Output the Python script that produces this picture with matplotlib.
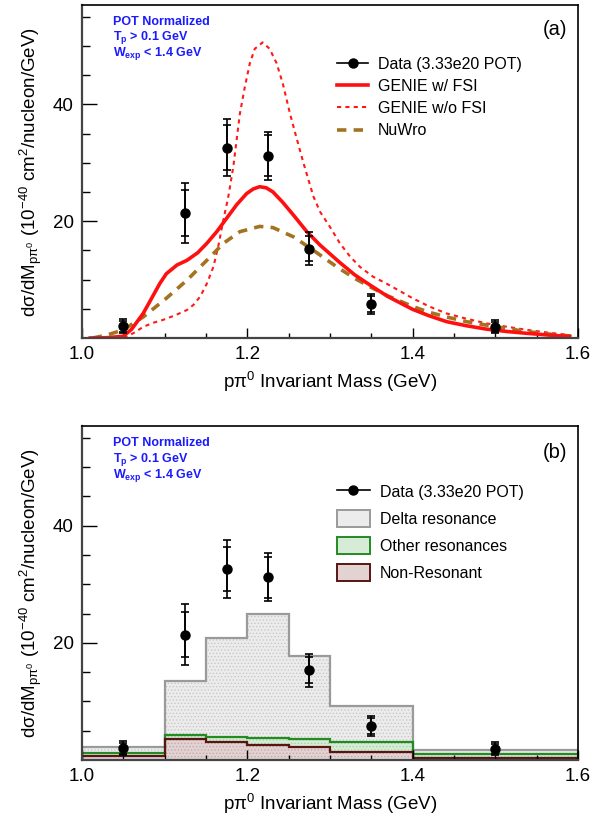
import numpy as np
import matplotlib
matplotlib.use("Agg")
import matplotlib.pyplot as plt
from matplotlib.patches import Patch
from matplotlib.lines import Line2D

plt.rcParams['font.family'] = ['Liberation Sans', 'DejaVu Sans']
plt.rcParams['mathtext.fontset'] = 'custom'
plt.rcParams['mathtext.rm'] = 'Liberation Sans'
plt.rcParams['mathtext.it'] = 'Liberation Sans:italic'
plt.rcParams['mathtext.bf'] = 'Liberation Sans:bold'
plt.rcParams['hatch.linewidth'] = 0.6

# ---------------- data ----------------
data_x = [1.05, 1.125, 1.175, 1.225, 1.275, 1.35, 1.5]
data_y = [2.0, 21.4, 32.6, 31.2, 15.3, 5.8, 1.9]
data_err_stat = [0.9, 3.9, 3.8, 3.5, 2.2, 1.4, 0.9]
data_err_tot = [1.2, 5.2, 4.9, 4.1, 2.8, 1.7, 1.1]

genie_fsi_x = [1.01, 1.03, 1.05, 1.06, 1.074, 1.085, 1.094, 1.102, 1.115, 1.127,
               1.14, 1.151, 1.163, 1.175, 1.187, 1.199, 1.207, 1.215, 1.223, 1.231,
               1.243, 1.256, 1.272, 1.288, 1.312, 1.33, 1.348, 1.37, 1.4, 1.42,
               1.441, 1.465, 1.49, 1.515, 1.538, 1.565, 1.59]
genie_fsi_y = [0.0, 0.05, 0.3, 1.5, 4.2, 7.0, 9.3, 11.0, 12.5, 13.3,
               14.6, 16.2, 18.2, 20.5, 22.8, 24.7, 25.5, 25.9, 25.7, 25.0,
               23.2, 21.0, 18.2, 15.9, 12.9, 10.8, 9.1, 7.1, 4.9, 3.8,
               2.8, 2.1, 1.5, 1.1, 0.8, 0.5, 0.25]

genie_nofsi_x = [1.02, 1.04, 1.052, 1.063, 1.074, 1.086, 1.098, 1.113, 1.127, 1.135,
                 1.143, 1.151, 1.159, 1.165, 1.171, 1.177, 1.183, 1.191, 1.197, 1.203,
                 1.209, 1.2185, 1.227, 1.2355, 1.243, 1.2516, 1.26, 1.268, 1.28, 1.288,
                 1.3, 1.312, 1.324, 1.336, 1.352, 1.3685, 1.385, 1.4, 1.42, 1.441,
                 1.465, 1.4895, 1.515, 1.538, 1.565, 1.59]
genie_nofsi_y = [0.0, 0.0, 0.1, 0.9, 1.9, 2.6, 3.1, 3.9, 4.8, 5.7,
                 7.1, 9.3, 12.2, 15.8, 20.2, 24.2, 29.3, 38.4, 43.0, 47.0,
                 49.5, 50.6, 49.5, 47.0, 43.5, 38.4, 34.0, 29.9, 24.2, 21.6,
                 19.0, 16.2, 14.0, 12.2, 10.5, 9.3, 8.0, 6.8, 5.4, 4.2,
                 3.3, 2.5, 1.9, 1.4, 0.9, 0.5]

nuwro_x = [1.013, 1.03, 1.05, 1.074, 1.102, 1.127, 1.151, 1.171, 1.191, 1.215,
           1.231, 1.256, 1.28, 1.308, 1.33, 1.348, 1.37, 1.4, 1.42, 1.441,
           1.465, 1.4895, 1.515, 1.538, 1.57, 1.595]
nuwro_y = [0.0, 0.5, 1.4, 3.6, 6.8, 9.9, 13.3, 16.2, 18.2, 19.1,
           18.9, 17.3, 15.0, 12.2, 10.2, 8.8, 7.2, 5.4, 4.4, 3.6,
           2.8, 2.2, 1.6, 1.1, 0.6, 0.3]

bin_edges = [1.0, 1.1, 1.15, 1.2, 1.25, 1.3, 1.4, 1.6]
nonres = [0.75, 3.5, 3.1, 2.6, 2.2, 1.3, 0.3]
other_res = [0.4, 0.7, 0.9, 1.2, 1.3, 1.7, 0.7]
delta_res = [1.0, 9.3, 16.9, 21.2, 14.3, 6.2, 0.7]

x_ticks = [1.0, 1.2, 1.4, 1.6]
x_ticklabels = ['1.0', '1.2', '1.4', '1.6']
y_ticks = [20, 40]

# ---------------- figure ----------------
W, H = 592, 825
fig = plt.figure(figsize=(W / 100, H / 100), dpi=100)

def px_axes(l, r, t, b):
    return fig.add_axes([l / W, 1 - b / H, (r - l) / W, (b - t) / H])

ax1 = px_axes(82, 578, 5, 338)
ax2 = px_axes(82, 578, 426, 760)

ylabel = r'd$\mathrm{\sigma}$/dM$_{\mathrm{p\pi^{0}}}$ (10$^{-40}$ cm$^{2}$/nucleon/GeV)'
xlabel = r'p$\mathrm{\pi}^{0}$ Invariant Mass (GeV)'
TICKFS = 13.5
LABFS = 13.5
LEGFS = 11.5

def style(ax):
    ax.set_xlim(1.0, 1.6)
    ax.set_ylim(0, 57)
    ax.set_xticks(x_ticks)
    ax.set_xticklabels(x_ticklabels)
    ax.set_xticks(np.arange(1.0, 1.6001, 0.05), minor=True)
    ax.set_yticks(y_ticks)
    ax.set_yticks(np.arange(5, 56, 5), minor=True)
    ax.tick_params(axis='x', which='major', direction='in', length=7.2, width=1.0,
                   labelsize=TICKFS, pad=6)
    ax.tick_params(axis='x', which='minor', direction='in', length=3.6, width=1.0)
    ax.tick_params(axis='y', which='major', direction='in', length=10.8, width=1.0,
                   labelsize=TICKFS, pad=6)
    ax.tick_params(axis='y', which='minor', direction='in', length=5.8, width=1.0)
    for s in ['left', 'bottom']:
        ax.spines[s].set_linewidth(1.6)
        ax.spines[s].set_color('#444444')
    for s in ['top', 'right']:
        ax.spines[s].set_linewidth(1.2)
        ax.spines[s].set_color('black')
    ax.set_ylabel(ylabel, fontsize=LABFS, labelpad=6)
    ax.set_xlabel(xlabel, fontsize=LABFS, labelpad=5)
    ax.text(0.0625, 0.949, 'POT Normalized', transform=ax.transAxes, color='#1a1aff',
            fontsize=9, fontweight='bold', va='center', ha='left')
    ax.text(0.0625, 0.901, r'T$_{\mathbf{p}}$ > 0.1 GeV', transform=ax.transAxes,
            color='#1a1aff', fontsize=9, fontweight='bold', va='center', ha='left')
    ax.text(0.0625, 0.853, r'W$_{\mathbf{exp}}$ < 1.4 GeV', transform=ax.transAxes,
            color='#1a1aff', fontsize=9, fontweight='bold', va='center', ha='left')

def draw_data(ax):
    ax.errorbar(data_x, data_y, yerr=data_err_tot, fmt='none', ecolor='black',
                elinewidth=1.2, capsize=3.2, capthick=1.2, zorder=5)
    ax.errorbar(data_x, data_y, yerr=data_err_stat, fmt='o', color='black',
                ms=6.5, elinewidth=1.2, capsize=3.2, capthick=1.2, zorder=6)

# ---- panel (a)
style(ax1)
ax1.plot(genie_nofsi_x, genie_nofsi_y, color='#ff1a1a', lw=1.5, ls=(0, (2.0, 2.0)))
ax1.plot(nuwro_x, nuwro_y, color='#a37420', lw=2.6, ls=(0, (2.6, 2.0)))
ax1.plot(genie_fsi_x, genie_fsi_y, color='#ff1010', lw=2.6)
draw_data(ax1)
ax1.text(0.954, 0.925, '(a)', transform=ax1.transAxes, fontsize=14.5, ha='center', va='center')

h_data = Line2D([], [], color='black', marker='o', ms=6.5, lw=1.2)
h_fsi = Line2D([], [], color='#ff1010', lw=2.6)
h_nofsi = Line2D([], [], color='#ff1a1a', lw=1.5, ls=(0, (2.0, 2.0)))
h_nuwro = Line2D([], [], color='#a37420', lw=2.6, ls=(0, (2.6, 2.0)))
ax1.legend([h_data, h_fsi, h_nofsi, h_nuwro],
           ['Data (3.33e20 POT)', 'GENIE w/ FSI', 'GENIE w/o FSI', 'NuWro'],
           loc='upper left', bbox_to_anchor=(0.514, 0.845), frameon=False,
           fontsize=LEGFS, handlelength=1.95, handletextpad=0.62, labelspacing=0.45,
           borderpad=0, borderaxespad=0)

# ---- panel (b)
style(ax2)
edges = np.array(bin_edges)
nr = np.array(nonres)
ot = nr + np.array(other_res)
tot = ot + np.array(delta_res)
ax2.stairs(tot, edges, baseline=0, fill=True, facecolor='#ececec', edgecolor='#c8c8c8',
           hatch='.....', linewidth=0)
ax2.stairs(ot, edges, baseline=0, fill=True, facecolor='#d6ecd6', edgecolor='#a9d0a9',
           hatch='.....', linewidth=0)
ax2.stairs(nr, edges, baseline=0, fill=True, facecolor='#e3d2d2', edgecolor='#c2a9a9',
           hatch='.....', linewidth=0)
ax2.stairs(tot, edges, baseline=0, fill=False, color='#9a9a9a', lw=1.6)
ax2.stairs(ot, edges, baseline=0, fill=False, color='#228b22', lw=1.6)
ax2.stairs(nr, edges, baseline=0, fill=False, color='#5a1414', lw=1.6)
draw_data(ax2)
ax2.text(0.954, 0.922, '(b)', transform=ax2.transAxes, fontsize=14.5, ha='center', va='center')

p_delta = Patch(facecolor='#ececec', edgecolor='#9a9a9a', lw=1.4)
p_other = Patch(facecolor='#d6ecd6', edgecolor='#228b22', lw=1.4)
p_nonres = Patch(facecolor='#e3d2d2', edgecolor='#5a1414', lw=1.4)
ax2.legend([h_data, p_delta, p_other, p_nonres],
           ['Data (3.33e20 POT)', 'Delta resonance', 'Other resonances', 'Non-Resonant'],
           loc='upper left', bbox_to_anchor=(0.514, 0.828), frameon=False,
           fontsize=LEGFS, handlelength=2.05, handleheight=1.25, handletextpad=0.62,
           labelspacing=0.62, borderpad=0, borderaxespad=0)

fig.savefig('out.png', dpi=100)
